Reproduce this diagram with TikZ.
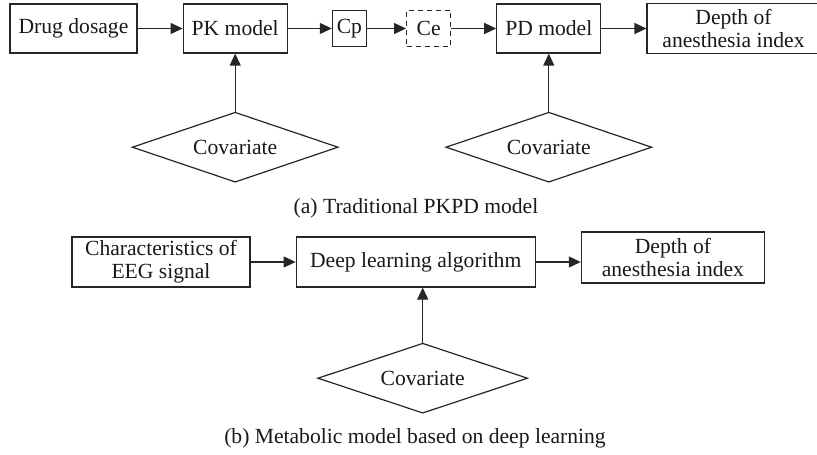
\documentclass[tikz,border=0pt]{standalone}
\usepackage{fontspec}
\setmainfont{Liberation Serif}
\usepackage{tikz}
\usetikzlibrary{shapes,arrows.meta,positioning,calc}

\begin{document}
\begin{tikzpicture}[
    x=0.5pt, y=-0.5pt,
    node distance=22.5pt,
    base/.style={draw=black!85, line width=0.6pt, inner sep=1pt, align=center, text=black!90, font=\fontsize{10.8}{11.5}\selectfont},
    box/.style={base, rectangle, minimum height=24.5pt},
    small/.style={base, rectangle, minimum height=18pt},
    cov/.style={base, diamond, inner sep=0pt, aspect=3, minimum width=103pt, minimum height=35pt},
    figcaption/.style={text=black!90, font=\fontsize{10.8}{11.5}\selectfont},
    arrow/.style={-{Triangle[length=6pt,width=5.5pt]}, line width=0.6pt, draw=black!85, fill=black!85}
]
\useasboundingbox (0,0) rectangle (817,454);

% (a) PK/PD chain
\node (drug) [box, minimum width=63.5pt] at (73.5,28.5) {Drug dosage};
\node (pk) [box, minimum width=52pt, right=of drug] {PK model};
\node (cp) [small, minimum width=17pt, right=22pt of pk] {Cp};
\node (ce) [small, minimum width=22pt, right=19.5pt of cp, dash pattern=on 2.5pt off 2pt] {Ce};
\node (pd) [box, minimum width=52pt, right=of ce] {PD model};
\node (dep1) [box, minimum width=86.5pt, minimum height=25pt, right=of pd] {Depth of\\anesthesia index};
\node (cov1) [cov, below=29pt of pk] {Covariate};
\node (cov2) [cov, below=29pt of pd] {Covariate};
\node (capa) [figcaption] at (416,208) {(a) Traditional PKPD model};

\draw [arrow] (drug) -- (pk);
\draw [arrow] (pk) -- (cp);
\draw [arrow] (cp) -- (ce);
\draw [arrow] (ce) -- (pd);
\draw [arrow] (pd) -- (dep1);
\draw [arrow] (cov1) -- (pk);
\draw [arrow] (cov2) -- (pd);

% (b) deep learning chain
\node (eeg) [box, minimum width=89pt, minimum height=25pt] at (161,262) {Characteristics of\\EEG signal};
\node (deep) [box, minimum width=119.5pt, minimum height=25pt, right=of eeg] {Deep learning algorithm};
\node (dep2) [box, minimum width=91.5pt, minimum height=25.5pt, right=of deep, yshift=2.25pt] {Depth of\\anesthesia index};
\node (cov3) [cov, minimum width=105pt, below=27.5pt of deep, xshift=3.5pt] {Covariate};
\node (capb) [figcaption] at (415,438) {(b) Metabolic model based on deep learning};

\draw [arrow] (eeg) -- (deep);
\draw [arrow] (deep.east) -- (deep.east -| dep2.west);
\draw [arrow] (cov3) -- (cov3 |- deep.south);
\end{tikzpicture}
\end{document}
